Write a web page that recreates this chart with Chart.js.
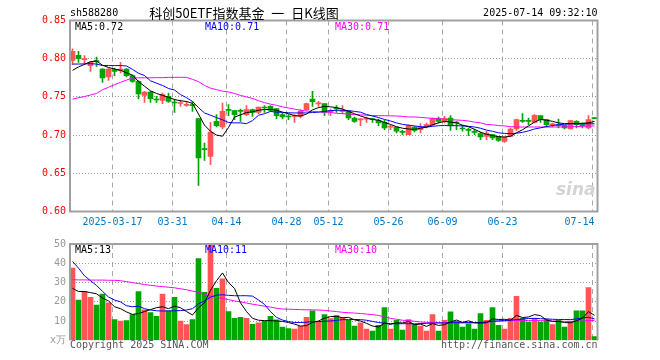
<!DOCTYPE html>
<html><head><meta charset="utf-8">
<script src="https://cdn.jsdelivr.net/npm/chart.js@4"></script>
<style>
html,body{margin:0;padding:0;background:#fff;}
#wrap{position:relative;width:660px;height:360px;overflow:hidden;background:#fff;}
canvas{position:absolute;left:0;}
#cp{top:0;}
#cv{top:234px;}
</style></head><body>
<div id="wrap"><canvas id="cp" width="660" height="240"></canvas><canvas id="cv" width="660" height="126"></canvas></div>
<script>
const dates = ['2025-03-06','2025-03-07','2025-03-10','2025-03-11','2025-03-12','2025-03-13','2025-03-14',
'2025-03-17','2025-03-18','2025-03-19','2025-03-20','2025-03-21','2025-03-24','2025-03-25','2025-03-26','2025-03-27','2025-03-28',
'2025-03-31','2025-04-01','2025-04-02','2025-04-03','2025-04-07','2025-04-08','2025-04-09','2025-04-10','2025-04-11',
'2025-04-14','2025-04-15','2025-04-16','2025-04-17','2025-04-18','2025-04-21','2025-04-22','2025-04-23','2025-04-24','2025-04-25',
'2025-04-28','2025-04-29','2025-04-30','2025-05-06','2025-05-07','2025-05-08','2025-05-09',
'2025-05-12','2025-05-13','2025-05-14','2025-05-15','2025-05-16','2025-05-19','2025-05-20','2025-05-21','2025-05-22','2025-05-23',
'2025-05-26','2025-05-27','2025-05-28','2025-05-29','2025-05-30','2025-06-03','2025-06-04','2025-06-05','2025-06-06',
'2025-06-09','2025-06-10','2025-06-11','2025-06-12','2025-06-13','2025-06-16','2025-06-17','2025-06-18','2025-06-19','2025-06-20',
'2025-06-23','2025-06-24','2025-06-25','2025-06-26','2025-06-27','2025-06-30','2025-07-01','2025-07-02','2025-07-03','2025-07-04',
'2025-07-07','2025-07-08','2025-07-09','2025-07-10','2025-07-11','2025-07-14'];

const opens = [0.7979,0.8044,0.7988,0.7909,0.7968,0.7865,0.7760,0.7856,0.7843,0.7865,
0.7778,0.7704,0.7520,0.7564,0.7470,0.7455,0.7507,0.7426,0.7414,0.7390,
0.7390,0.7215,0.6816,0.6722,0.7180,0.7106,0.7328,0.7320,0.7315,0.7267,
0.7333,0.7298,0.7358,0.7376,0.7346,0.7267,0.7240,0.7243,0.7246,0.7333,
0.7470,0.7408,0.7411,0.7308,0.7344,0.7308,0.7311,0.7224,0.7200,0.7208,
0.7204,0.7193,0.7167,0.7104,0.7106,0.7038,0.7006,0.7106,0.7071,0.7106,
0.7137,0.7215,0.7180,0.7224,0.7160,0.7082,0.7064,0.7038,0.7019,0.6984,
0.7006,0.6984,0.6918,0.6984,0.7080,0.7182,0.7182,0.7167,0.7254,0.7202,
0.7135,0.7126,0.7128,0.7080,0.7180,0.7126,0.7093,0.7217];
const highs = [0.8130,0.8096,0.8040,0.7965,0.8020,0.7870,0.7878,0.7878,0.7952,0.7870,
0.7790,0.7715,0.7573,0.7573,0.7507,0.7551,0.7551,0.7472,0.7460,0.7442,
0.7442,0.7215,0.6896,0.7167,0.7267,0.7420,0.7398,0.7320,0.7340,0.7385,
0.7340,0.7368,0.7385,0.7385,0.7346,0.7289,0.7267,0.7267,0.7333,0.7420,
0.7573,0.7442,0.7411,0.7342,0.7385,0.7385,0.7311,0.7237,0.7215,0.7237,
0.7224,0.7211,0.7193,0.7136,0.7106,0.7062,0.7136,0.7110,0.7150,0.7158,
0.7224,0.7237,0.7246,0.7254,0.7180,0.7123,0.7093,0.7080,0.7036,0.7050,
0.7006,0.6984,0.6975,0.7093,0.7211,0.7281,0.7224,0.7267,0.7254,0.7202,
0.7158,0.7211,0.7128,0.7193,0.7189,0.7158,0.7254,0.7217];
const lows = [0.7922,0.7952,0.7930,0.7835,0.7900,0.7691,0.7717,0.7778,0.7813,0.7760,
0.7691,0.7472,0.7429,0.7429,0.7429,0.7411,0.7429,0.7298,0.7376,0.7376,
0.7311,0.6342,0.6670,0.6613,0.7106,0.7080,0.7254,0.7202,0.7180,0.7254,
0.7245,0.7280,0.7298,0.7311,0.7215,0.7211,0.7202,0.7167,0.7224,0.7324,
0.7376,0.7376,0.7254,0.7254,0.7298,0.7280,0.7202,0.7167,0.7123,0.7167,
0.7167,0.7123,0.7071,0.7071,0.7027,0.7006,0.7006,0.7040,0.7027,0.7093,
0.7124,0.7158,0.7158,0.7062,0.7071,0.7050,0.6993,0.7006,0.6940,0.6940,
0.6940,0.6918,0.6905,0.6975,0.7062,0.7167,0.7137,0.7158,0.7167,0.7106,
0.7106,0.7093,0.7080,0.7080,0.7093,0.7093,0.7080,0.7215];
const closes = [0.8096,0.8000,0.7998,0.7952,0.7962,0.7747,0.7865,0.7835,0.7865,0.7778,
0.7704,0.7538,0.7564,0.7477,0.7460,0.7530,0.7442,0.7420,0.7420,0.7398,
0.7385,0.6700,0.6810,0.7040,0.7123,0.7311,0.7324,0.7267,0.7311,0.7333,
0.7298,0.7368,0.7355,0.7324,0.7254,0.7237,0.7237,0.7246,0.7311,0.7411,
0.7438,0.7411,0.7298,0.7311,0.7342,0.7311,0.7224,0.7180,0.7202,0.7211,
0.7202,0.7158,0.7093,0.7106,0.7050,0.7036,0.7124,0.7062,0.7106,0.7137,
0.7215,0.7180,0.7215,0.7123,0.7158,0.7080,0.7062,0.7036,0.6975,0.7027,
0.6962,0.6931,0.6975,0.7080,0.7202,0.7180,0.7180,0.7260,0.7202,0.7137,
0.7137,0.7124,0.7093,0.7189,0.7137,0.7124,0.7202,0.7215];
const volumes = [37.5,20.9,25.4,22.4,18.4,24.0,19.5,10.9,10.0,10.3,
13.4,25.4,15.9,14.5,12.5,24.0,15.4,22.4,10.0,8.2,
10.9,42.4,25.0,49.5,27.0,32.0,15.0,11.5,12.0,11.5,
8.4,9.2,10.0,12.5,10.7,7.0,6.2,5.9,7.4,12.0,
15.4,9.9,13.4,11.4,12.9,11.7,10.4,7.5,9.2,5.9,
4.9,7.9,17.0,5.9,10.4,5.4,10.9,8.2,7.5,4.9,
13.4,4.9,10.4,14.9,9.9,7.0,8.7,5.9,13.9,10.4,
17.0,7.9,5.9,11.5,22.9,11.5,9.5,11.5,9.5,10.9,
8.2,10.4,7.0,9.9,15.4,15.4,27.4,2.0];
const ma5 = [0.7848,0.7892,0.7926,0.7961,0.7970,0.7915,0.7885,0.7865,0.7848,0.7815,
0.7785,0.7700,0.7640,0.7580,0.7545,0.7520,0.7495,0.7465,0.7450,0.7440,
0.7415,0.7275,0.7130,0.7050,0.7000,0.6985,0.7100,0.7235,0.7265,0.7295,
0.7305,0.7325,0.7335,0.7335,0.7325,0.7300,0.7280,0.7255,0.7250,0.7275,
0.7330,0.7360,0.7375,0.7370,0.7360,0.7340,0.7310,0.7280,0.7250,0.7225,
0.7205,0.7195,0.7165,0.7140,0.7110,0.7090,0.7080,0.7075,0.7090,0.7105,
0.7135,0.7160,0.7180,0.7170,0.7160,0.7130,0.7110,0.7075,0.7040,0.7010,
0.6995,0.6980,0.6975,0.6985,0.7030,0.7070,0.7120,0.7170,0.7205,0.7195,
0.7180,0.7160,0.7150,0.7150,0.7150,0.7155,0.7160,0.7180];
const ma10 = [0.7930,0.7930,0.7932,0.7935,0.7930,0.7910,0.7910,0.7910,0.7910,0.7905,
0.7860,0.7810,0.7780,0.7710,0.7680,0.7650,0.7610,0.7590,0.7530,0.7490,
0.7440,0.7360,0.7290,0.7260,0.7230,0.7200,0.7165,0.7160,0.7160,0.7150,
0.7190,0.7260,0.7280,0.7310,0.7300,0.7298,0.7292,0.7290,0.7290,0.7290,
0.7295,0.7300,0.7310,0.7320,0.7325,0.7325,0.7322,0.7310,0.7300,0.7270,
0.7250,0.7230,0.7205,0.7185,0.7160,0.7140,0.7130,0.7120,0.7110,0.7106,
0.7115,0.7123,0.7125,0.7123,0.7123,0.7120,0.7115,0.7106,0.7090,0.7065,
0.7050,0.7030,0.7022,0.7019,0.7025,0.7036,0.7055,0.7080,0.7095,0.7112,
0.7125,0.7136,0.7142,0.7148,0.7148,0.7148,0.7148,0.7148];
const ma30 = [0.7470,0.7490,0.7505,0.7525,0.7545,0.7595,0.7625,0.7660,0.7690,0.7720,
0.7747,0.7750,0.7750,0.7750,0.7752,0.7752,0.7755,0.7756,0.7756,0.7756,
0.7730,0.7700,0.7650,0.7615,0.7595,0.7575,0.7565,0.7545,0.7520,0.7500,
0.7480,0.7450,0.7425,0.7405,0.7390,0.7370,0.7355,0.7340,0.7325,0.7315,
0.7310,0.7305,0.7300,0.7298,0.7285,0.7280,0.7275,0.7268,0.7265,0.7260,
0.7256,0.7254,0.7254,0.7252,0.7250,0.7245,0.7237,0.7237,0.7232,0.7225,
0.7220,0.7215,0.7210,0.7202,0.7198,0.7193,0.7185,0.7170,0.7160,0.7140,
0.7135,0.7125,0.7120,0.7110,0.7106,0.7106,0.7106,0.7106,0.7106,0.7106,
0.7106,0.7106,0.7108,0.7110,0.7112,0.7115,0.7118,0.7120];
const vma5 = [27.0,25.4,25.4,24.8,24.2,22.0,20.5,17.5,16.5,14.8,
13.5,14.0,15.0,16.0,17.0,17.5,16.5,17.8,17.0,15.0,
13.2,17.0,19.5,26.0,31.0,35.0,30.0,27.0,19.5,15.0,
11.5,10.5,10.3,10.3,10.1,9.9,9.3,8.5,7.5,7.7,
9.4,10.1,11.6,12.4,12.5,11.8,12.0,10.7,10.1,8.9,
7.5,7.0,9.0,8.3,9.2,9.1,9.9,8.2,8.5,7.3,
8.8,7.8,8.2,9.6,10.6,9.4,10.2,9.2,9.0,9.2,
11.2,10.9,11.0,10.5,13.0,11.9,12.2,13.4,12.9,10.6,
9.9,9.9,9.3,9.2,10.2,11.6,15.0,13.0];
const vma10 = [41.0,37.5,33.5,31.0,28.5,25.5,22.5,21.0,20.0,18.0,
17.5,17.8,16.5,15.8,15.4,15.3,15.3,15.4,15.5,15.8,
16.5,19.0,20.5,22.5,23.5,23.7,23.4,23.2,23.2,23.2,
23.0,21.0,18.7,15.0,12.0,10.6,9.8,9.3,9.3,9.5,
9.8,9.8,10.0,10.1,10.4,10.8,10.8,10.9,10.8,10.5,
9.9,9.3,9.0,8.8,8.7,8.7,8.7,8.6,8.8,8.9,
9.0,9.1,9.1,9.2,9.2,9.2,9.3,9.2,9.4,9.6,
10.0,10.2,10.3,10.6,10.8,11.1,11.4,11.5,11.3,11.2,
11.0,10.9,10.9,10.8,11.2,11.7,12.0,11.2];
const vma30 = [31.5,31.4,31.4,31.3,31.3,31.3,31.2,31.2,31.0,30.5,
30.0,29.5,29.0,28.6,28.2,27.9,27.6,27.3,26.8,26.3,
25.6,25.0,24.0,23.0,22.3,21.8,21.2,20.5,20.0,19.4,
18.8,18.3,17.8,17.3,16.7,16.3,16.2,16.1,16.0,15.9,
15.9,15.8,15.6,15.3,15.0,14.6,14.4,14.2,14.0,13.7,
13.4,13.0,12.2,11.5,11.0,10.5,10.3,10.0,9.6,9.4,
9.3,9.2,9.2,9.2,9.2,9.2,9.2,9.2,9.3,9.5,
9.7,10.0,10.2,10.3,10.4,10.35,10.35,10.3,10.3,10.2,
10.1,10.0,9.9,9.9,10.0,10.1,10.3,10.4];
const priceTicks = [0.60,0.65,0.70,0.75,0.80,0.85];
const volTicks = [0,10,20,30,40,50];
const tickDates = ['2025-03-17','2025-03-31','2025-04-14','2025-04-28','2025-05-12','2025-05-26','2025-06-09','2025-06-23','2025-07-14'];
const tickLabels = ['2025-03-17','03-31','04-14','04-28','05-12','05-26','06-09','06-23','07-14'];
const symbol = 'sh588280';
const title = '科创50ETF指数基金 一 日K线图';
const stamp = '2025-07-14 09:32:10';

const UP = '#ff5555', DN = '#00a600';
const MONO = '"DejaVu Sans Mono","Liberation Mono",monospace';
const GRID = '#a8a8a8', FRAME = '#a0a0a0';
const isUp = closes.map((c, i) => c >= opens[i]);
const candleColors = isUp.map(u => u ? UP : DN);
const tickIdx = tickDates.map(d => dates.indexOf(d));
const GRID_SHIFT = -1/3;

function txt(ctx, s, x, y, color, align, font) {
  ctx.font = font || ('10px ' + MONO);
  ctx.fillStyle = color; ctx.textAlign = align || 'left'; ctx.textBaseline = 'middle';
  ctx.fillText(s, x, y);
}
function xScale() {
  return {
    type: 'linear', min: -2.5/6, max: 87.5, display: true, offset: false, bounds: 'data',
    ticks: { display: false },
    grid: { color: GRID, drawTicks: false, lineWidth: 1, offset: false },
    border: { display: false, dash: [5, 4] },
    afterBuildTicks: s => { s.ticks = tickIdx.map(i => ({ value: i + GRID_SHIFT })); }
  };
}
function lineDs(data, color) {
  return { type: 'line', data: data.map((v, i) => ({ x: i, y: v })), borderColor: color, borderWidth: 1,
    pointRadius: 0, tension: 0, order: 0, fill: false };
}

const pricePane = {
  id: 'pricePane',
  beforeDatasetsDraw(chart) {
    const { ctx, chartArea: a } = chart;
    ctx.save();
    txt(ctx, 'sina', a.right - 2, a.bottom - 21, '#d4d4d4', 'right', 'italic bold 17px "DejaVu Sans"');
    ctx.restore();
  },
  afterDraw(chart) {
    const { ctx, chartArea: a, scales } = chart;
    ctx.save();
    ctx.strokeStyle = FRAME; ctx.lineWidth = 2;
    ctx.strokeRect(a.left, a.top, a.right - a.left, a.bottom - a.top);
    txt(ctx, symbol, a.left, 13, '#000');
    ctx.save();
    try { ctx.wordSpacing = '4px'; } catch (e) {}
    txt(ctx, title, 244, 13, '#000', 'center', '13px "Noto Sans CJK SC"');
    ctx.restore();
    txt(ctx, stamp, a.right, 13, '#000', 'right');
    const L = ma5.length - 1;
    txt(ctx, 'MA5:' + ma5[L].toFixed(2), a.left + 5, 27, '#000');
    txt(ctx, 'MA10:' + ma10[L].toFixed(2), a.left + 135, 27, '#0000ff');
    txt(ctx, 'MA30:' + ma30[L].toFixed(2), a.left + 265, 27, '#ff00ff');
    ctx.font = '10px ' + MONO;
    tickIdx.forEach((ix, k) => {
      const px = scales.x.getPixelForValue(ix + GRID_SHIFT);
      const w = ctx.measureText(tickLabels[k]).width;
      if (px + w / 2 > a.right - 3) txt(ctx, tickLabels[k], a.right - 3, 222, '#0078c8', 'right');
      else txt(ctx, tickLabels[k], px, 222, '#0078c8', 'center');
    });
    ctx.restore();
  }
};
const volPane = {
  id: 'volPane',
  afterDraw(chart) {
    const { ctx, chartArea: a } = chart;
    ctx.save();
    ctx.strokeStyle = FRAME; ctx.lineWidth = 2;
    ctx.beginPath();
    ctx.moveTo(a.left, a.bottom); ctx.lineTo(a.left, a.top); ctx.lineTo(a.right, a.top); ctx.lineTo(a.right, a.bottom);
    ctx.stroke();
    const L = vma5.length - 1;
    txt(ctx, 'MA5:' + Math.round(vma5[L]), a.left + 5, a.top + 6.5, '#000');
    txt(ctx, 'MA10:' + Math.round(vma10[L]), a.left + 135, a.top + 6.5, '#0000ff');
    txt(ctx, 'MA30:' + Math.round(vma30[L]), a.left + 265, a.top + 6.5, '#ff00ff');
    txt(ctx, 'Copyright 2025 SINA.COM', a.left, a.bottom + 5, '#555');
    txt(ctx, 'http://finance.sina.com.cn', a.right, a.bottom + 5, '#555', 'right');
    ctx.restore();
  }
};

const common = {
  responsive: false, animation: false, events: [],
  plugins: { legend: { display: false }, tooltip: { enabled: false } }
};

new Chart(document.getElementById('cp'), {
  type: 'bar',
  data: { datasets: [
    lineDs(ma5, '#000000'), lineDs(ma10, '#0000ff'), lineDs(ma30, '#ff00ff'),
    { type: 'bar', data: dates.map((d, i) => ({ x: i, y: [opens[i], closes[i]] })), backgroundColor: candleColors,
      grouped: false, barThickness: 5, maxBarThickness: 5, minBarLength: 1, borderWidth: 0, order: 1 },
    { type: 'bar', data: dates.map((d, i) => ({ x: i, y: [lows[i], highs[i]] })), backgroundColor: candleColors,
      grouped: false, barThickness: 1, maxBarThickness: 1, minBarLength: 1, borderWidth: 0, order: 2 }
  ]},
  options: Object.assign({}, common, {
    layout: { padding: { left: 0, right: 62.5, top: 20.5, bottom: 28.5 } },
    scales: {
      x: xScale(),
      y: { type: 'linear', position: 'left', min: 0.6, max: 0.85,
        ticks: { color: '#ff0000', padding: 4, font: { family: MONO, size: 10 }, callback: v => v.toFixed(2) },
        afterBuildTicks: s => { s.ticks = priceTicks.map(v => ({ value: v })); },
        grid: { drawTicks: false, lineWidth: 1, color: c => (c.tick && (c.tick.value === 0.6 || c.tick.value === 0.85)) ? 'rgba(0,0,0,0)' : '#999' },
        border: { display: false, dash: [1, 2] },
        afterFit: s => { s.width = 70; } }
    }
  }),
  plugins: [pricePane]
});

new Chart(document.getElementById('cv'), {
  type: 'bar',
  data: { datasets: [
    lineDs(vma5, '#000000'), lineDs(vma10, '#0000ff'), lineDs(vma30, '#ff00ff'),
    { type: 'bar', data: volumes.map((v, i) => ({ x: i, y: v })), backgroundColor: candleColors,
      grouped: false, barThickness: 5, maxBarThickness: 5, borderWidth: 0, order: 1 }
  ]},
  options: Object.assign({}, common, {
    layout: { padding: { left: 0, right: 62.5, top: 6.5, bottom: 19.5 } },
    scales: {
      x: xScale(),
      y: { type: 'linear', position: 'left', min: 0, max: 50,
        ticks: { color: '#999', padding: 4, font: { family: MONO, size: 10 }, callback: v => v === 0 ? 'x万' : String(v) },
        afterBuildTicks: s => { s.ticks = volTicks.map(v => ({ value: v })); },
        grid: { drawTicks: false, lineWidth: 1, color: c => (c.tick && (c.tick.value === 0 || c.tick.value === 50)) ? 'rgba(0,0,0,0)' : '#999' },
        border: { display: false, dash: [1, 2] },
        afterFit: s => { s.width = 70; } }
    }
  }),
  plugins: [volPane]
});
</script>
</body></html>
